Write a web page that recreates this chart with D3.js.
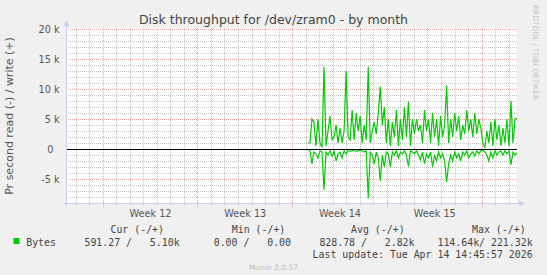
<!DOCTYPE html>
<html><head><meta charset="utf-8">
<script src="https://cdn.jsdelivr.net/npm/d3@7"></script>
<style>
body{margin:0;background:#f0f0f0;}
svg{display:block;}
text{font-family:"DejaVu Sans",sans-serif;}
.mono{font-family:"DejaVu Sans Mono",monospace;white-space:pre;}
</style>
</head><body>
<svg id="c" width="547" height="275"></svg>
<script>
// ---- data (values in thousands of bytes per second) ----
const writeK = [1.0,1.0,5.0,4.5,0.5,5.0,1.0,0.3,13.7,0.5,
 3.0,5.5,1.5,2.0,4.0,1.0,3.5,1.0,3.0,13.0,
 2.0,1.5,6.5,1.5,6.0,3.0,5.5,1.0,4.0,1.5,
 13.7,1.0,3.0,4.5,2.5,6.0,10.4,4.0,7.0,1.0,
 5.0,0.5,4.5,2.0,6.5,0.5,5.0,1.5,7.0,2.0,
 7.9,0.5,5.0,2.5,5.0,3.0,4.0,1.0,6.5,3.0,
 5.0,1.0,6.0,2.0,5.0,0.5,5.5,2.0,4.0,10.6,
 1.0,5.0,2.0,6.0,3.0,5.5,1.5,4.0,2.5,6.5,
 3.0,5.0,2.0,6.0,2.5,5.0,3.5,1.0,0.3,3.0,
 1.0,4.5,0.5,5.0,1.5,4.0,0.5,3.5,1.0,5.0,
 0.5,8.0,1.0,5.0,5.1];
const readK = [0.1,0.2,2.5,0.5,0.8,1.5,0.3,0.5,6.8,0.5,
 1.0,0.3,1.2,0.4,2.0,0.8,0.5,1.5,0.3,0.8,
 0.2,0.4,0.3,0.2,0.4,0.3,0.2,0.3,0.5,0.3,
 8.2,0.5,1.0,2.5,0.5,1.5,5.3,1.0,3.0,0.5,
 0.8,3.0,0.5,1.0,0.3,1.5,0.5,0.8,0.3,1.0,
 2.9,0.3,0.5,0.8,0.3,1.0,1.8,0.5,2.5,0.8,
 1.5,0.5,3.0,1.0,2.0,0.5,1.5,0.8,2.0,5.5,
 2.5,1.0,2.0,0.5,1.5,0.8,2.0,0.5,1.0,0.3,
 1.5,0.8,0.5,1.2,0.3,0.8,0.3,0.2,0.5,1.0,
 2.0,0.5,1.5,0.3,1.0,0.5,0.3,1.0,0.3,0.8,
 0.3,2.6,0.5,1.0,0.59];
const dataStart = Date.UTC(2026,2,30,4,0,0);
const lastUpdate = Date.UTC(2026,3,14,14,45,57);
const periodDays = 33.25;
const yTickValues = [-5000,0,5000,10000,15000,20000];
const yTickLabels = ["-5 k","0  ","5 k","10 k","15 k","20 k"];
const weekStarts = ["2026-03-15","2026-03-22","2026-03-29","2026-04-05","2026-04-12"];
const weekLabels = ["Week 12","Week 13","Week 14","Week 15"];
const legendHeaders = ["Cur (-/+)","Min (-/+)","Avg (-/+)","Max (-/+)"];
const legendValues = ["591.27 /   5.10k","0.00 /   0.00","828.78 /   2.82k","114.64k/ 221.32k"];
const seriesName = "Bytes";
const title = "Disk throughput for /dev/zram0 - by month";
const yTitle = "Pr second read (-) / write (+)";
const lastUpdateText = "Last update: Tue Apr 14 14:45:57 2026";

// ---- layout ----
const L=67, R=517, T=28, B=203;
const svg = d3.select("#c");
svg.append("rect").attr("width",547).attr("height",275).attr("fill","#f0f0f0");
svg.append("rect").attr("x",L).attr("y",T).attr("width",R-L).attr("height",B-T).attr("fill","#ffffff");

const x = d3.scaleUtc().domain([new Date(lastUpdate - periodDays*864e5), new Date(lastUpdate)]).range([L,R]);
const y = d3.scaleLinear().domain([-9000, 20166.7]).range([B,T]);

const n = writeK.length;
const step = (lastUpdate - dataStart)/(n-1);
const times = writeK.map((_,i)=>new Date(dataStart + i*step));

// dotted patterns (pixel exact)
const defs = svg.append("defs");
function dotPat(id, color, horiz){
  const p = defs.append("pattern").attr("id",id).attr("patternUnits","userSpaceOnUse")
    .attr("width",horiz?2:1).attr("height",horiz?1:2);
  p.append("rect").attr("width",1).attr("height",1).attr("fill",color);
}
dotPat("hMin","#c4c4c4",true); dotPat("vMin","#c4c4c4",false);
dotPat("hMaj","#eca0a0",true); dotPat("vMaj","#eca0a0",false);

// grid
const majorT = weekStarts.map(s=>new Date(s+"T00:00:00Z"));
const majorSet = new Set(majorT.map(d=>+d));
const days = d3.utcDay.range(x.domain()[0], x.domain()[1]).filter(d=>!majorSet.has(+d));
const grid = svg.append("g").attr("shape-rendering","crispEdges");
const minorV = d3.range(-9000, 20001, 1000).filter(v=>!yTickValues.includes(v));
grid.selectAll(".hm").data(minorV).join("rect")
  .attr("x",L-2).attr("width",R-L+2).attr("y",d=>Math.round(y(d))).attr("height",1).attr("fill","url(#hMin)");
grid.selectAll(".vm").data(days).join("rect")
  .attr("x",d=>Math.round(x(d))).attr("width",1).attr("y",T).attr("height",B+3-T).attr("fill","url(#vMin)");
grid.selectAll(".hM").data(yTickValues).join("rect")
  .attr("x",L-2).attr("width",R-L+2).attr("y",d=>Math.round(y(d))).attr("height",1).attr("fill","url(#hMaj)");
grid.selectAll(".vM").data(majorT).join("rect")
  .attr("x",d=>Math.round(x(d))).attr("width",1).attr("y",T).attr("height",B+4-T).attr("fill","url(#vMaj)");

// series
const line = d3.line().x((d,i)=>x(times[i])).y(d=>y(d));
svg.append("path").datum(writeK.map(v=>v*1000)).attr("d",line)
  .attr("fill","none").attr("stroke","#00cc00").attr("stroke-width",1.2);
svg.append("path").datum(readK.map(v=>-v*1000)).attr("d",line)
  .attr("fill","none").attr("stroke","#00cc00").attr("stroke-width",1.2);

// zero rule
svg.append("line").attr("x1",L).attr("x2",R).attr("y1",Math.round(y(0))+0.5).attr("y2",Math.round(y(0))+0.5)
  .attr("stroke","#000").attr("stroke-width",1);

// axes lines + arrows
const ac = "#c8d0f4";
svg.append("line").attr("x1",L-0.5).attr("x2",L-0.5).attr("y1",B+3).attr("y2",T-3).attr("stroke",ac);
svg.append("line").attr("x1",L-3).attr("x2",R+3).attr("y1",B+0.5).attr("y2",B+0.5).attr("stroke",ac);
svg.append("path").attr("d",`M${L-3.5},${T-2} L${L-0.5},${T-8} L${L+2.5},${T-2} Z`).attr("fill",ac);
svg.append("path").attr("d",`M${R+2},${B-2.5} L${R+8},${B+0.5} L${R+2},${B+3.5} Z`).attr("fill",ac);

// y tick labels
const yAxis = d3.axisLeft(y).tickValues(yTickValues).tickFormat((d,i)=>yTickLabels[i]).tickSize(0).tickPadding(0);
svg.append("g").attr("transform","translate(59.5,0)").call(yAxis)
  .call(g=>g.select(".domain").remove())
  .call(g=>g.selectAll("text").attr("font-family","DejaVu Sans").attr("font-size",9.7).attr("fill","#555")
     .attr("dy",null).attr("y",3.5).attr("x",0).style("white-space","pre").attr("xml:space","preserve"));

// x week labels
const weekMid = majorT.slice(0,4).map(d=>new Date(+d + 3.5*864e5));
const xAxis = d3.axisBottom(x).tickValues(weekMid).tickFormat((d,i)=>weekLabels[i]).tickSize(0).tickPadding(0);
svg.append("g").attr("transform","translate(0,216.5)").call(xAxis)
  .call(g=>g.select(".domain").remove())
  .call(g=>g.selectAll("text").attr("font-family","DejaVu Sans").attr("font-size",9.7).attr("fill","#555").attr("dy",null).attr("y",0));

// title
svg.append("text").attr("x",273.5).attr("y",24).attr("text-anchor","middle").attr("font-size",12.5).attr("fill","#444").text(title);
// y title
svg.append("text").attr("transform","translate(13,116) rotate(-90)").attr("text-anchor","middle").attr("font-size",11).attr("fill","#555").text(yTitle);
// watermark
svg.append("text").attr("transform","translate(533,52.5) rotate(90)").attr("text-anchor","middle").attr("font-size",7.4).attr("fill","#c4c4c4").text("RRDTOOL / TOBI OETIKER");

// legend
const fs = 9.9;
const hdrEnds = [164,285.3,404.6,525.6];
const valEnds = [179.6,291,414.5,532.6];
svg.selectAll(".hdr").data(legendHeaders).join("text").attr("class","mono")
  .attr("x",(d,i)=>hdrEnds[i]).attr("y",233).attr("text-anchor","end").attr("font-size",fs).attr("fill","#444").text(d=>d);
svg.append("rect").attr("x",13.5).attr("y",238).attr("width",6).attr("height",6).attr("fill","#00cc00");
svg.append("text").attr("class","mono").attr("x",26.2).attr("y",245.5).attr("font-size",fs).attr("fill","#444").text(seriesName);
svg.selectAll(".val").data(legendValues).join("text").attr("class","mono")
  .attr("x",(d,i)=>valEnds[i]).attr("y",245.5).attr("text-anchor","end").attr("font-size",fs).attr("fill","#444").text(d=>d);
svg.append("text").attr("class","mono").attr("x",532.6).attr("y",258).attr("text-anchor","end").attr("font-size",fs).attr("fill","#444").text(lastUpdateText);
svg.append("text").attr("x",273.5).attr("y",270).attr("text-anchor","middle").attr("font-size",7.5).attr("fill","#bbbbbb").text("Munin 2.0.57");
</script>
</body></html>
